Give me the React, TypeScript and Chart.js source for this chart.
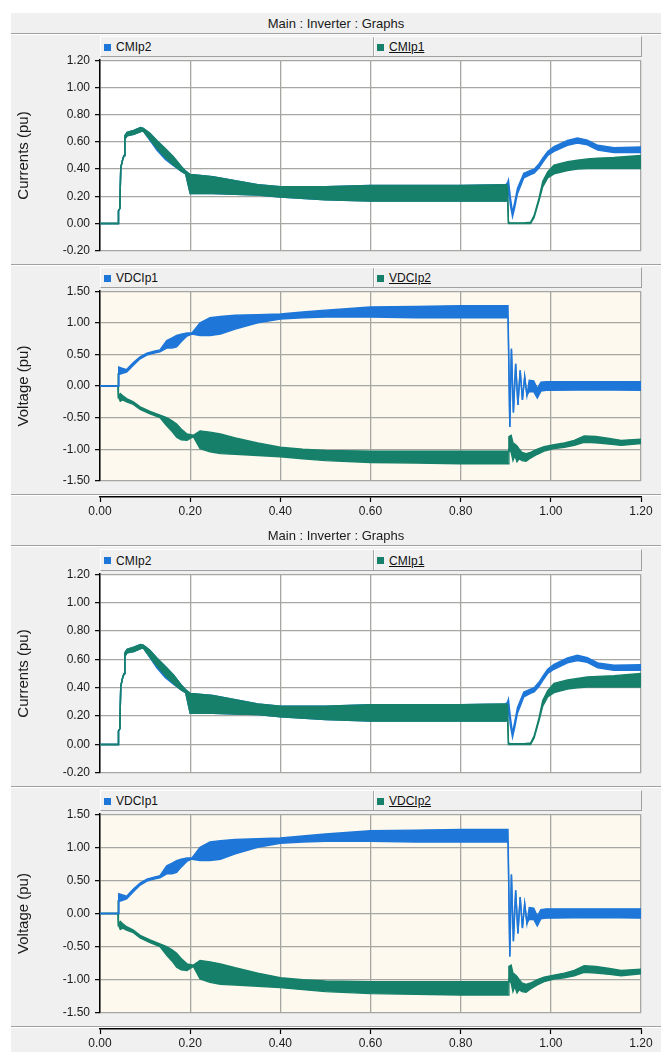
import React, { useEffect, useRef } from "react";
import { Chart, registerables } from "chart.js";

Chart.register(...registerables);

const FONT = "'Liberation Sans', Arial, Helvetica, sans-serif";
const BLUE = "#1e77d8";
const GREEN = "#16806a";
const GRID = "#a6a6a2";
const PANEL = "#f0f0f0";
const CREAM = "#fdf9ee";

const TITLE = "Main : Inverter : Graphs";
const X_TICKS = [0, 0.2, 0.4, 0.6, 0.8, 1.0, 1.2];
const CURRENT_TICKS = [-0.2, 0, 0.2, 0.4, 0.6, 0.8, 1.0, 1.2];
const VOLTAGE_TICKS = [-1.5, -1.0, -0.5, 0, 0.5, 1.0, 1.5];
const CURRENT_LEGEND = ["CMIp2", "CMIp1"];
const VOLTAGE_LEGEND = ["VDCIp1", "VDCIp2"];
const CURRENT_TITLE = "Currents (pu)";
const VOLTAGE_TITLE = "Voltage (pu)";

// ---- currents (envelopes of the rippled traces) ----
const tCurr = [0, 0.040, 0.041, 0.044, 0.046, 0.051, 0.054, 0.055, 0.06, 0.075, 0.09, 0.096, 0.11, 0.126, 0.145, 0.163, 0.18, 0.19, 0.2, 0.25, 0.3, 0.35, 0.4, 0.5, 0.6, 0.7, 0.8, 0.9, 0.904, 0.906, 0.91, 0.915, 0.92, 0.926, 0.94, 0.955, 0.963, 0.974, 0.982, 0.993, 1.007, 1.037, 1.059, 1.081, 1.104, 1.14, 1.2];
const cmIp1Hi = [0, 0, 0.095, 0.11, 0.41, 0.48, 0.5, 0.645, 0.67, 0.685, 0.705, 0.70, 0.665, 0.61, 0.55, 0.49, 0.42, 0.385, 0.36, 0.345, 0.315, 0.285, 0.27, 0.27, 0.28, 0.28, 0.28, 0.285, 0.28, 0.01, 0.005, 0.005, 0.005, 0.005, 0.005, 0.01, 0.06, 0.19, 0.31, 0.38, 0.43, 0.455, 0.465, 0.475, 0.48, 0.485, 0.5];
const cmIp1Lo = [0, 0, 0.095, 0.11, 0.41, 0.48, 0.5, 0.62, 0.645, 0.655, 0.675, 0.68, 0.62, 0.555, 0.485, 0.43, 0.385, 0.365, 0.22, 0.22, 0.215, 0.21, 0.195, 0.175, 0.165, 0.165, 0.165, 0.165, 0.17, 0.0, 0.0, 0.0, 0.0, 0.0, 0.0, 0.0, 0.045, 0.17, 0.27, 0.335, 0.365, 0.39, 0.4, 0.405, 0.405, 0.405, 0.405];
const cmIp2Hi = [0, 0, 0.095, 0.11, 0.41, 0.48, 0.5, 0.645, 0.67, 0.685, 0.705, 0.70, 0.665, 0.61, 0.55, 0.49, 0.42, 0.385, 0.36, 0.345, 0.315, 0.285, 0.27, 0.27, 0.28, 0.28, 0.28, 0.285, 0.30, 0.32, 0.2, 0.08, 0.16, 0.26, 0.37, 0.39, 0.40, 0.44, 0.48, 0.53, 0.565, 0.61, 0.628, 0.612, 0.575, 0.558, 0.562];
const cmIp2Lo = [0, 0, 0.095, 0.11, 0.41, 0.48, 0.5, 0.62, 0.645, 0.655, 0.675, 0.68, 0.615, 0.54, 0.47, 0.425, 0.385, 0.365, 0.22, 0.22, 0.215, 0.21, 0.195, 0.175, 0.165, 0.165, 0.165, 0.165, 0.17, 0.28, 0.14, 0.05, 0.12, 0.22, 0.335, 0.36, 0.37, 0.41, 0.45, 0.5, 0.53, 0.575, 0.592, 0.578, 0.54, 0.522, 0.522];

// ---- DC voltages ----
const tV1 = [0, 0.040, 0.041, 0.042, 0.05, 0.059, 0.074, 0.089, 0.104, 0.12, 0.133, 0.148, 0.16, 0.17, 0.18, 0.193, 0.204, 0.222, 0.244, 0.267, 0.3, 0.35, 0.4, 0.45, 0.5, 0.6, 0.7, 0.8, 0.905, 0.909, 0.9126, 0.917, 0.922, 0.927, 0.932, 0.937, 0.942, 0.947, 0.952, 0.962, 0.97, 0.978, 0.99, 1.0, 1.1, 1.2];
const vdcIp1Hi = [0, 0, 0.17, 0.3, 0.28, 0.26, 0.37, 0.46, 0.52, 0.55, 0.57, 0.72, 0.76, 0.8, 0.82, 0.84, 0.84, 1.0, 1.08, 1.1, 1.12, 1.13, 1.14, 1.17, 1.2, 1.25, 1.26, 1.27, 1.27, -0.65, 0.59, -0.42, 0.35, -0.3, 0.25, -0.22, 0.15, -0.15, 0.09, 0.08, -0.04, 0.06, 0.07, 0.07, 0.07, 0.07];
const vdcIp1Lo = [0, 0, 0.0, 0.18, 0.2, 0.22, 0.33, 0.43, 0.49, 0.52, 0.54, 0.6, 0.6, 0.62, 0.7, 0.79, 0.82, 0.8, 0.8, 0.82, 0.9, 1.0, 1.06, 1.08, 1.09, 1.09, 1.08, 1.08, 1.08, -0.65, 0.59, -0.42, 0.35, -0.3, 0.25, -0.22, 0.15, -0.15, -0.09, -0.09, -0.19, -0.08, -0.07, -0.07, -0.06, -0.07];
const tV2 = [0, 0.040, 0.0405, 0.041, 0.045, 0.05, 0.059, 0.074, 0.089, 0.111, 0.133, 0.148, 0.16, 0.17, 0.18, 0.193, 0.207, 0.222, 0.244, 0.267, 0.3, 0.35, 0.4, 0.45, 0.5, 0.6, 0.7, 0.8, 0.905, 0.907, 0.912, 0.916, 0.92, 0.925, 0.93, 0.936, 0.945, 0.955, 0.97, 0.985, 1.007, 1.03, 1.052, 1.074, 1.1, 1.13, 1.156, 1.2];
const vdcIp2Hi = [0, 0, 0.2, -0.17, -0.12, -0.15, -0.2, -0.25, -0.33, -0.4, -0.46, -0.5, -0.55, -0.6, -0.68, -0.76, -0.78, -0.71, -0.73, -0.76, -0.82, -0.9, -0.97, -1.0, -1.02, -1.03, -1.03, -1.03, -1.03, -0.8, -0.78, -0.9, -0.92, -0.95, -1.0, -1.05, -1.07, -1.05, -1.0, -0.96, -0.93, -0.9, -0.86, -0.79, -0.8, -0.83, -0.86, -0.84];
const vdcIp2Lo = [0, 0, 0.2, -0.17, -0.24, -0.22, -0.25, -0.29, -0.37, -0.44, -0.5, -0.63, -0.72, -0.81, -0.85, -0.86, -0.8, -0.99, -1.04, -1.07, -1.08, -1.1, -1.12, -1.15, -1.18, -1.21, -1.22, -1.23, -1.23, -1.0, -1.05, -1.18, -1.1, -1.2, -1.15, -1.18, -1.19, -1.14, -1.08, -1.03, -0.99, -0.97, -0.94, -0.89, -0.9, -0.92, -0.94, -0.91];

// ---- layout constants ----
const PANEL_LEFT = 11;
const CANVAS_W = 650;
const AREA_L = 89; // chart area left inside canvas (abs 100)
const PAD_R = 20; // chart area right inside canvas (abs 641)
const PAD_V = 10;

const fmt = (v: any) => Number(v).toFixed(2);

function band(t: number[], lo: number[], hi: number[], color: string) {
  const common = { borderColor: color, backgroundColor: color, borderWidth: 1.4, pointRadius: 0, tension: 0 };
  return [
    { ...common, data: t.map((x, i) => ({ x, y: lo[i] })), fill: false },
    { ...common, data: t.map((x, i) => ({ x, y: hi[i] })), fill: "-1" },
  ];
}

const plotBg = {
  id: "plotBg",
  beforeDraw(chart: any, _a: any, opts: any) {
    const { ctx, chartArea: a } = chart;
    ctx.save();
    ctx.fillStyle = opts.color;
    ctx.fillRect(a.left, a.top, a.right - a.left, a.bottom - a.top);
    ctx.restore();
  },
};

function plotConfig(kind: "curr" | "volt"): any {
  const isV = kind === "volt";
  const datasets = isV
    ? [...band(tV1, vdcIp1Lo, vdcIp1Hi, BLUE), ...band(tV2, vdcIp2Lo, vdcIp2Hi, GREEN)]
    : [...band(tCurr, cmIp1Lo, cmIp1Hi, GREEN), ...band(tCurr, cmIp2Lo, cmIp2Hi, BLUE)];
  const yTicks = isV ? VOLTAGE_TICKS : CURRENT_TICKS;
  return {
    type: "line",
    data: { datasets },
    options: {
      animation: false,
      responsive: false,
      maintainAspectRatio: false,
      events: [],
      layout: { padding: { left: 0, right: PAD_R, top: PAD_V, bottom: PAD_V } },
      plugins: {
        legend: { display: false },
        tooltip: { enabled: false },
        plotBg: { color: isV ? CREAM : "#ffffff" },
      },
      scales: {
        x: {
          type: "linear",
          min: 0,
          max: 1.2,
          afterBuildTicks: (s: any) => { s.ticks = X_TICKS.map((v) => ({ value: v })); },
          afterFit: (s: any) => { s.height = 0; },
          ticks: { display: false },
          grid: { color: GRID, lineWidth: 1.3, drawTicks: false },
          border: { display: false },
        },
        y: {
          min: yTicks[0],
          max: yTicks[yTicks.length - 1],
          afterBuildTicks: (s: any) => { s.ticks = yTicks.map((v) => ({ value: v })); },
          afterFit: (s: any) => { s.width = AREA_L; },
          ticks: { color: "#1a1a1a", font: { size: 12, family: FONT }, padding: 5, callback: fmt },
          grid: { color: GRID, lineWidth: 1.3, tickColor: "#000", tickLength: 5, tickWidth: 1.2, drawTicks: true },
          border: { color: "#000", width: 1.5 },
          title: {
            display: true,
            text: isV ? VOLTAGE_TITLE : CURRENT_TITLE,
            color: "#1a1a1a",
            font: { size: 15, family: FONT },
            padding: { top: 4, bottom: 0 },
          },
        },
      },
    },
    plugins: [plotBg],
  };
}

function axisConfig(): any {
  return {
    type: "line",
    data: { datasets: [] },
    options: {
      animation: false,
      responsive: false,
      maintainAspectRatio: false,
      events: [],
      layout: { padding: { left: AREA_L, right: PAD_R, top: 0, bottom: 0 } },
      plugins: { legend: { display: false }, tooltip: { enabled: false } },
      scales: {
        x: {
          type: "linear",
          min: 0,
          max: 1.2,
          afterBuildTicks: (s: any) => { s.ticks = X_TICKS.map((v) => ({ value: v })); },
          afterFit: (s: any) => { s.height = 30; },
          ticks: { color: "#1a1a1a", font: { size: 12, family: FONT }, padding: 2, callback: fmt, autoSkip: false, maxRotation: 0 },
          grid: { drawOnChartArea: false, drawTicks: true, tickLength: 5, tickColor: "#000", tickWidth: 1.2 },
          border: { display: true, color: "#000", width: 1.5 },
        },
        y: { display: false },
      },
    },
  };
}

function ChartCanvas({ top, height, make }: { top: number; height: number; make: () => any }) {
  const ref = useRef<HTMLCanvasElement>(null);
  useEffect(() => {
    const chart = new Chart(ref.current as HTMLCanvasElement, make());
    return () => chart.destroy();
  }, []);
  return (
    <canvas
      ref={ref}
      width={CANVAS_W}
      height={height}
      style={{ position: "absolute", left: PANEL_LEFT, top, width: CANVAS_W, height }}
    />
  );
}

function HLine({ y }: { y: number }) {
  return (
    <>
      <div style={{ position: "absolute", left: PANEL_LEFT, top: y, width: CANVAS_W, height: 1, background: "#a0a0a0" }} />
      <div style={{ position: "absolute", left: PANEL_LEFT, top: y + 1, width: CANVAS_W, height: 1, background: "#ffffff" }} />
    </>
  );
}

function LegendBar({ top, bottom, labels }: { top: number; bottom: number; labels: string[] }) {
  const h = bottom - top;
  const item = (x: number, label: string, color: string, underline: boolean) => (
    <div style={{ position: "absolute", left: x, top: 0, height: h - 1, display: "flex", alignItems: "center" }}>
      <span style={{ display: "inline-block", width: 7, height: 7, background: color, marginRight: 5 }} />
      <span style={{ font: `12px ${FONT}`, color: "#111", textDecoration: underline ? "underline" : "none" }}>{label}</span>
    </div>
  );
  return (
    <div
      style={{
        position: "absolute",
        left: 100,
        top,
        width: 542,
        height: h,
        boxSizing: "border-box",
        background: PANEL,
        borderTop: "1px solid #ffffff",
        borderLeft: "1px solid #ffffff",
        borderBottom: "1px solid #a0a0a0",
        borderRight: "1px solid #a0a0a0",
      }}
    >
      {item(3, labels[0], BLUE, false)}
      <div style={{ position: "absolute", left: 272, top: 0, width: 1, height: h - 2, background: "#a8a8a8" }} />
      <div style={{ position: "absolute", left: 273, top: 0, width: 1, height: h - 2, background: "#ffffff" }} />
      {item(276, labels[1], GREEN, true)}
    </div>
  );
}

function Panel({ y0, s }: { y0: number; s: number }) {
  const f = (y: number) => Math.round(y0 + (y - 22) * s);
  const cTop = f(58), cBot = f(253);
  const vTop = f(289), vBot = f(483);
  const axisY = f(497);
  return (
    <>
      <div
        style={{
          position: "absolute",
          left: PANEL_LEFT,
          top: f(13),
          width: CANVAS_W,
          height: f(33) - f(13),
          display: "flex",
          alignItems: "center",
          justifyContent: "center",
          font: `13px ${FONT}`,
          color: "#1a1a1a",
        }}
      >
        {TITLE}
      </div>
      <HLine y={f(33)} />
      <ChartCanvas top={cTop - PAD_V} height={cBot - cTop + 2 * PAD_V} make={() => plotConfig("curr")} />
      <LegendBar top={f(36)} bottom={f(57)} labels={CURRENT_LEGEND} />
      <HLine y={f(264)} />
      <ChartCanvas top={vTop - PAD_V} height={vBot - vTop + 2 * PAD_V} make={() => plotConfig("volt")} />
      <LegendBar top={f(267)} bottom={f(288)} labels={VOLTAGE_LEGEND} />
      <HLine y={f(494)} />
      <ChartCanvas top={axisY - 2} height={32} make={axisConfig} />
    </>
  );
}

export default function App() {
  return (
    <div style={{ position: "absolute", left: 0, top: 0, width: 667, height: 1052, background: "#ffffff", overflow: "hidden" }}>
      <div style={{ position: "absolute", left: PANEL_LEFT, top: 13, width: CANVAS_W, height: 1039, background: PANEL }} />
      <Panel y0={22} s={1} />
      <Panel y0={534} s={1.043} />
    </div>
  );
}
